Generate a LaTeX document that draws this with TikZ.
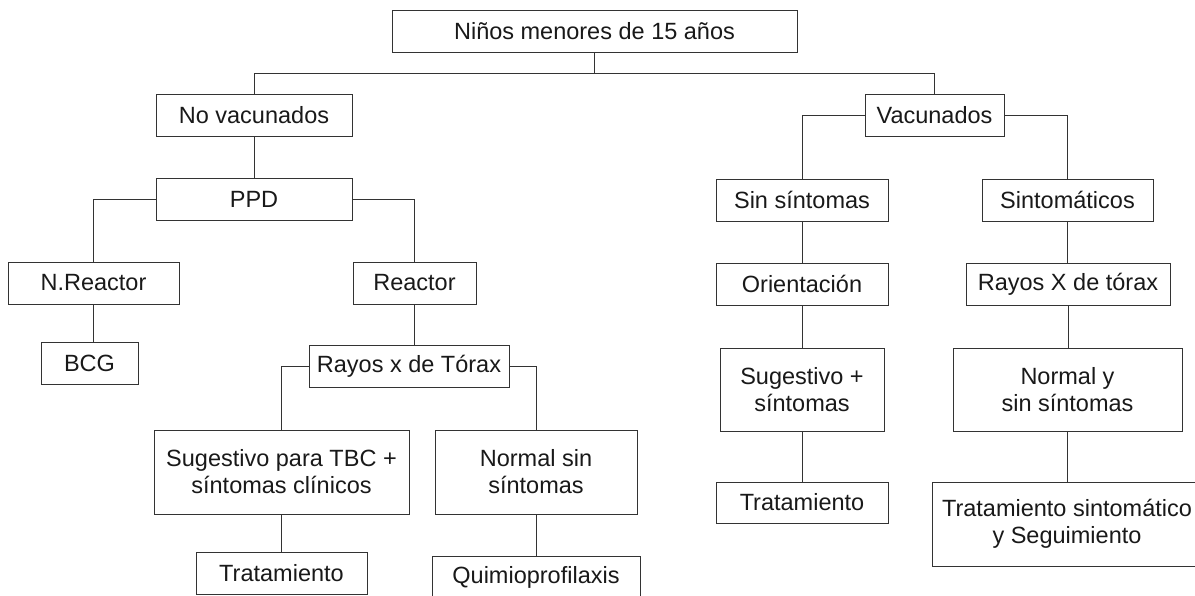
\documentclass[tikz,border=0pt]{standalone}
\usepackage{fontspec}
\setmainfont{Liberation Sans}
\begin{document}
\begin{tikzpicture}[x=1pt,y=-1pt,
  box/.style={draw=black!80, line width=0.8pt, inner sep=0pt, align=center,
    text=black!90, font=\fontsize{23.5}{27}\selectfont},
  conn/.style={draw=black!80, line width=0.8pt}]
\clip (0,0) rectangle (1195,596);
\fill[white] (0,0) rectangle (1195,596);
% nodes
\node[box, minimum width=405pt, minimum height=42pt] (top) at (594.5,31) {Niños menores de 15 años};
\node[box, minimum width=196pt, minimum height=42pt] (novac) at (254,115) {No vacunados};
\node[box, minimum width=196pt, minimum height=42pt] (ppd) at (254,199) {PPD};
\node[box, minimum width=171pt, minimum height=42pt] (nreact) at (93.5,283) {N.Reactor};
\node[box, minimum width=97pt, minimum height=42pt] (bcg) at (89.5,363) {BCG};
\node[box, minimum width=123pt, minimum height=42pt] (reactor) at (414.5,283) {Reactor};
\node[box, minimum width=200pt, minimum height=42pt] (rayos1) at (409,366) {Rayos x de Tórax};
\node[box, minimum width=255pt, minimum height=84pt] (sug1) at (281.5,472) {Sugestivo para TBC +\\síntomas clínicos};
\node[box, minimum width=171pt, minimum height=42pt] (trat1) at (281.5,573) {Tratamiento};
\node[box, minimum width=202pt, minimum height=84pt] (norm1) at (536,472) {Normal sin\\síntomas};
\node[box, minimum width=208pt, minimum height=42pt] (quimio) at (536,577) {Quimioprofilaxis};
\node[box, minimum width=139pt, minimum height=42pt] (vac) at (934.5,115) {Vacunados};
\node[box, minimum width=172pt, minimum height=42pt] (sinsint) at (802,200) {Sin síntomas};
\node[box, minimum width=171pt, minimum height=42pt] (sintom) at (1067.5,200) {Sintomáticos};
\node[box, minimum width=172pt, minimum height=42pt] (orient) at (802,284) {Orientación};
\node[box, minimum width=204pt, minimum height=42pt] (rayos2) at (1068,284) {Rayos X de tórax};
\node[box, minimum width=164pt, minimum height=83pt] (sug2) at (802,389.5) {Sugestivo +\\síntomas};
\node[box, minimum width=229pt, minimum height=83pt] (norm2) at (1067.5,389.5) {Normal y\\sin síntomas};
\node[box, minimum width=172pt, minimum height=41pt] (trat2) at (802,502.5) {Tratamiento};
\node[box, minimum width=270pt, minimum height=84pt] (tratsint) at (1067,524) {Tratamiento sintomático\\y Seguimiento};
% connectors
\coordinate (j1) at (594.5,73);
\draw[conn] (top.south) -- (j1) -| (novac.north);
\draw[conn] (j1) -| (vac.north);
\draw[conn] (novac.south) -- (ppd.north);
\draw[conn] (ppd.west) -| (nreact.north);
\draw[conn] (ppd.east) -| (reactor.north);
\draw[conn] (nreact.south) -- (nreact.south |- bcg.north);
\draw[conn] (reactor.south) -- (reactor.south |- rayos1.north);
\draw[conn] (rayos1.west) -| (sug1.north);
\draw[conn] (rayos1.east) -| (norm1.north);
\draw[conn] (sug1.south) -- (trat1.north);
\draw[conn] (norm1.south) -- (quimio.north);
\draw[conn] (vac.west) -| (sinsint.north);
\draw[conn] (vac.east) -| (sintom.north);
\draw[conn] (sinsint.south) -- (orient.north);
\draw[conn] (orient.south) -- (sug2.north);
\draw[conn] (sug2.south) -- (trat2.north);
\draw[conn] (sintom.south) -- (sintom.south |- rayos2.north);
\draw[conn] (rayos2.south) -- (rayos2.south |- norm2.north);
\draw[conn] (norm2.south) -- (norm2.south |- tratsint.north);
\end{tikzpicture}
\end{document}
